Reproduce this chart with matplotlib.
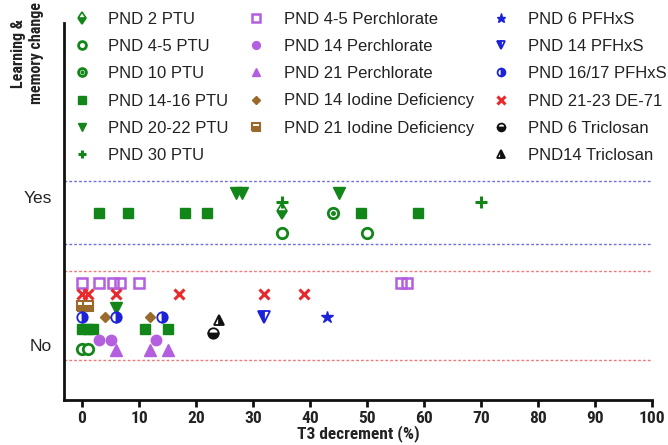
import matplotlib
matplotlib.use("Agg")
import matplotlib.pyplot as plt
from matplotlib.lines import Line2D
from matplotlib import font_manager as fm

# ---- data: T3 decrement (%) and row position (No = 0, Yes = 1) ----
ptu2_x = [35]
ptu2_y = [0.907]
ptu45_x = [35, 50, 0, 1]
ptu45_y = [0.76, 0.76, -0.03, -0.03]
ptu10_x = [44]
ptu10_y = [0.89]
ptu1416_x = [3, 8, 18, 22, 49, 59, 0, 1, 2, 11, 15]
ptu1416_y = [0.89, 0.89, 0.89, 0.89, 0.89, 0.89, 0.106, 0.106, 0.106, 0.106, 0.106]
ptu2022_x = [27, 28, 45, 6]
ptu2022_y = [1.03, 1.03, 1.03, 0.25]
ptu30_x = [35, 70]
ptu30_y = [0.964, 0.964]

perch45_x = [0, 3, 5.5, 6.7, 10, 56, 57]
perch45_y = [0.419] * 7
perch14_x = [3, 5, 13]
perch14_y = [0.034] * 3
perch21_x = [6, 12, 15]
perch21_y = [-0.034] * 3
iod14_x = [4, 12]
iod14_y = [0.187] * 2
iod21_x = [0, 1]
iod21_y = [0.26] * 2

pfhxs6_x = [43]
pfhxs6_y = [0.187]
pfhxs14_x = [32]
pfhxs14_y = [0.187]
pfhxs1617_x = [0, 6, 14]
pfhxs1617_y = [0.187] * 3
de71_x = [0, 1, 6, 17, 32, 39]
de71_y = [0.345] * 6
tric6_x = [23]
tric6_y = [0.083]
tric14_x = [24]
tric14_y = [0.169]

yes_band = [0.682, 1.108]
no_band = [-0.101, 0.5]
row_ticks = [0, 1]
row_labels = ["No", "Yes"]
x_ticks = list(range(0, 101, 10))

GREEN = "#13861a"
PURPLE = "#b35fe0"
BROWN = "#9a6a2c"
BLUE = "#1c22d8"
RED = "#e82a2e"
BLACK = "#111111"
TEXT = "#222222"

plt.rcParams["font.family"] = ["Liberation Sans", "DejaVu Sans"]


def available(fam):
    try:
        fm.findfont(fm.FontProperties(family=fam), fallback_to_default=False)
        return True
    except ValueError:
        return False


narrow = None
for fam in ["Roboto Condensed", "Liberation Sans Narrow", "Open Sans Condensed",
            "DejaVu Sans Condensed", "Arial Narrow"]:
    if available(fam):
        narrow = fam
        break
if narrow:
    axis_family = [narrow, "Liberation Sans"]
    tick_fs, title_fs, ylab_fs = 12.5, 12.5, 11.5
else:
    axis_family = ["Liberation Sans"]
    tick_fs, title_fs, ylab_fs = 11.5, 11.5, 9.5

fig = plt.figure(figsize=(6.68, 4.45), dpi=100)
W, H = 668, 445
ax = fig.add_axes([64 / W, 1 - 400 / H, (652 - 64) / W, (400 - 23) / H])
ax.set_xlim(-3.16, 100)
ax.set_ylim(-0.372, 2.176)

# band boundaries
for yv in yes_band:
    ax.axhline(yv, color="#7070e0", lw=1.0, ls=(0, (2, 1.5)), zorder=1)
for yv in no_band:
    ax.axhline(yv, color="#ee7a7a", lw=1.0, ls=(0, (2, 1.5)), zorder=1)

ms = 7.5
handles = []


def series(x, y, label, **kw):
    h, = ax.plot(x, y, ls="none", label=label, zorder=3, **kw)
    return h


# PTU series
h = series(ptu2_x, ptu2_y, "PND 2 PTU", marker="d", ms=8, color=GREEN,
           fillstyle="bottom", markerfacecoloralt="white", mec=GREEN, mew=1.2)
handles.append(h)
h = series(ptu45_x, ptu45_y, "PND 4-5 PTU", marker="o", ms=ms, mfc="white",
           mec=GREEN, mew=2.0)
handles.append(h)
h1 = series(ptu10_x, ptu10_y, "PND 10 PTU", marker="o", ms=ms, mfc="white",
            mec=GREEN, mew=2.0)
h2, = ax.plot(ptu10_x, ptu10_y, ls="none", marker="o", ms=2.5, color=GREEN,
              zorder=4)
handles.append((h1, h2))
h = series(ptu1416_x, ptu1416_y, "PND 14-16 PTU", marker="s", ms=ms,
           color=GREEN, mec=GREEN)
handles.append(h)
h = series(ptu2022_x, ptu2022_y, "PND 20-22 PTU", marker="v", ms=ms + 0.5,
           color=GREEN, mec=GREEN)
handles.append(h)
h = series(ptu30_x, ptu30_y, "PND 30 PTU", marker="+", ms=ms + 1, color=GREEN,
           mew=2.2)
handles.append(h)

# Perchlorate / iodine deficiency series
h = series(perch45_x, perch45_y, "PND 4-5 Perchlorate", marker="s", ms=ms,
           mfc="none", mec=PURPLE, mew=1.8)
handles.append(h)
h = series(perch14_x, perch14_y, "PND 14 Perchlorate", marker="o", ms=ms,
           color=PURPLE, mec=PURPLE)
handles.append(h)
h = series(perch21_x, perch21_y, "PND 21 Perchlorate", marker="^", ms=ms + 0.5,
           color=PURPLE, mec=PURPLE)
handles.append(h)
h = series(iod14_x, iod14_y, "PND 14 Iodine Deficiency", marker="D", ms=5.5,
           color=BROWN, mec=BROWN)
handles.append(h)
h = series(iod21_x, iod21_y, "PND 21 Iodine Deficiency", marker="s", ms=ms,
           color=BROWN, fillstyle="bottom", markerfacecoloralt="white",
           mec=BROWN, mew=1.5)
handles.append(h)
handles.append(Line2D([], [], ls="none", label=" "))

# PFHxS / DE-71 / Triclosan series
h = series(pfhxs6_x, pfhxs6_y, "PND 6 PFHxS", marker="*", ms=ms + 1.5,
           color=BLUE, mec=BLUE)
handles.append(h)
h = series(pfhxs14_x, pfhxs14_y, "PND 14 PFHxS", marker="v", ms=ms + 0.5,
           color=BLUE, fillstyle="left", markerfacecoloralt="white", mec=BLUE,
           mew=1.3)
handles.append(h)
h = series(pfhxs1617_x, pfhxs1617_y, "PND 16/17 PFHxS", marker="o", ms=ms,
           color=BLUE, fillstyle="right", markerfacecoloralt="white", mec=BLUE,
           mew=1.3)
handles.append(h)
h = series(de71_x, de71_y, "PND 21-23 DE-71", marker="x", ms=ms, color=RED,
           mew=2.2)
handles.append(h)
h = series(tric6_x, tric6_y, "PND 6 Triclosan", marker="o", ms=ms,
           color=BLACK, fillstyle="bottom", markerfacecoloralt="white",
           mec=BLACK, mew=1.3)
handles.append(h)
h = series(tric14_x, tric14_y, "PND14 Triclosan", marker="^", ms=ms,
           color=BLACK, fillstyle="right", markerfacecoloralt="white",
           mec=BLACK, mew=1.3)
handles.append(h)

labels = ["PND 2 PTU", "PND 4-5 PTU", "PND 10 PTU", "PND 14-16 PTU",
          "PND 20-22 PTU", "PND 30 PTU",
          "PND 4-5 Perchlorate", "PND 14 Perchlorate", "PND 21 Perchlorate",
          "PND 14 Iodine Deficiency", "PND 21 Iodine Deficiency", "",
          "PND 6 PFHxS", "PND 14 PFHxS", "PND 16/17 PFHxS", "PND 21-23 DE-71",
          "PND 6 Triclosan", "PND14 Triclosan"]

# three legend columns placed independently
col_x = [82, 256, 501]
col_pad = [1.05, 1.18, 1.12]
fs = 12
hl = 1.0
for c in range(3):
    hs = handles[c * 6:(c + 1) * 6]
    ls_ = labels[c * 6:(c + 1) * 6]
    anchor_x = (col_x[c] - hl * fs * 100 / 72 / 2) / W
    leg = fig.legend(hs, ls_, loc="upper left",
                     bbox_to_anchor=(anchor_x, 1 - 12 / H),
                     frameon=False, fontsize=fs, handlelength=hl,
                     handletextpad=col_pad[c], borderpad=0, borderaxespad=0,
                     labelspacing=0.73, markerscale=0.75)
    for t in leg.get_texts():
        t.set_color(TEXT)

# axes styling
for side in ["top", "right"]:
    ax.spines[side].set_visible(False)
for side in ["left", "bottom"]:
    ax.spines[side].set_linewidth(2.0)
    ax.spines[side].set_color("#111111")

ax.set_yticks(row_ticks)
ax.set_yticklabels(row_labels, fontsize=12.5, color=TEXT)
ax.tick_params(axis="y", length=0, pad=8.6)
ax.set_xticks(x_ticks)
ax.set_xticklabels([str(v) for v in x_ticks], fontsize=tick_fs,
                   fontweight="bold", color=TEXT, family=axis_family)
ax.tick_params(axis="x", direction="out", length=5, width=2, pad=3,
               color="#111111")
ax.set_xlabel("T3 decrement (%)", fontsize=title_fs, fontweight="bold",
              color=TEXT, labelpad=-1, family=axis_family)

fig.text(27 / W, 1 - 53 / H, "Learning &\nmemory change", rotation=90,
         ha="center", va="center", fontsize=ylab_fs, fontweight="bold",
         color=TEXT, linespacing=1.25, family=axis_family)

fig.savefig("out.png", dpi=100)
